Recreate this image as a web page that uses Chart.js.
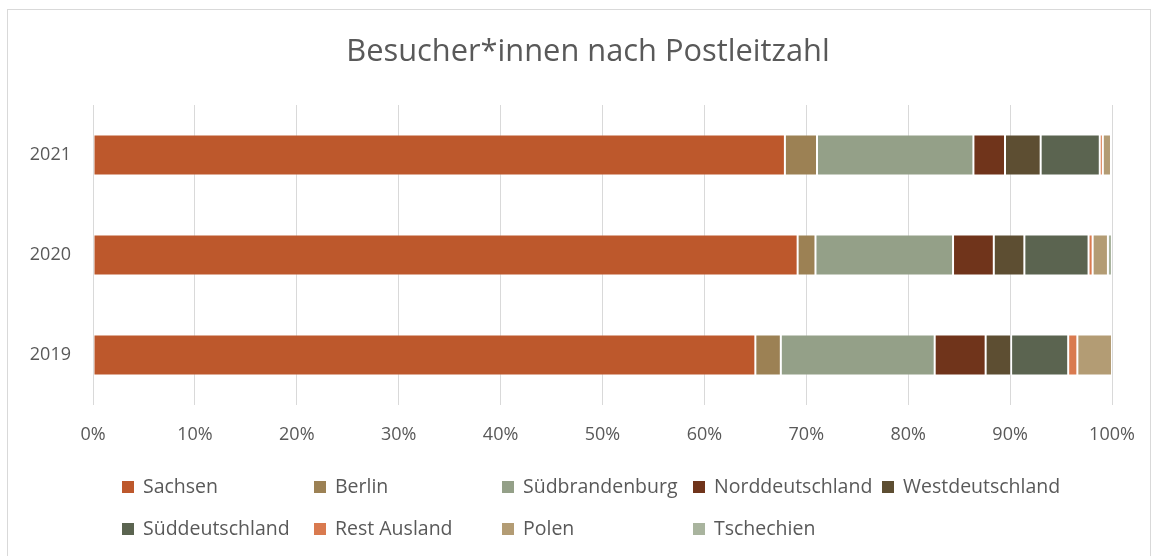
<!DOCTYPE html>
<html><head><meta charset="utf-8">
<script src="https://cdn.jsdelivr.net/npm/chart.js@4/dist/chart.umd.min.js"></script>
<style>html,body{margin:0;padding:0;background:#fff;}#wrap{position:relative;width:1160px;height:556px;}</style>
</head><body><div id="wrap"><canvas id="c" width="1160" height="556"></canvas></div>
<script>
const years = ["2021", "2020", "2019"];
const sachsen = [67.9, 69.15, 65.0];
const berlin = [3.15, 1.75, 2.5];
const suedbrandenburg = [15.35, 13.5, 15.1];
const norddeutschland = [3.1, 4.0, 5.0];
const westdeutschland = [3.5, 3.0, 2.5];
const sueddeutschland = [5.8, 6.3, 5.6];
const restAusland = [0.3, 0.4, 0.9];
const polen = [0.8, 1.5, 3.4];
const tschechien = [0.1, 0.4, 0.0];
const xTicks = ["0%","10%","20%","30%","40%","50%","60%","70%","80%","90%","100%"];
const titleText = "Besucher*innen nach Postleitzahl";

const seriesNames = ["Sachsen","Berlin","Südbrandenburg","Norddeutschland","Westdeutschland","Süddeutschland","Rest Ausland","Polen","Tschechien"];
const seriesData = [sachsen, berlin, suedbrandenburg, norddeutschland, westdeutschland, sueddeutschland, restAusland, polen, tschechien];
const colors = ["#BD582C","#9C8154","#94A088","#70341B","#5D4E32","#5B6450","#D97A4F","#B39C74","#A9B49E"];

const FONT = "'Open Sans', 'Noto Sans', sans-serif";
const GREY = "#595959";

const frame = {
  id: 'frame',
  beforeDraw(chart) {
    const ctx = chart.ctx;
    ctx.save();
    ctx.fillStyle = '#fff';
    ctx.fillRect(0, 0, chart.width, chart.height);
    ctx.strokeStyle = '#d9d9d9';
    ctx.lineWidth = 1;
    ctx.strokeRect(7.5, 9.5, 1143, 600);
    ctx.restore();
  },
  afterDraw(chart) {
    const ctx = chart.ctx;
    ctx.save();
    ctx.font = "30.8px " + FONT;
    ctx.fillStyle = GREY;
    ctx.textAlign = 'center';
    ctx.textBaseline = 'middle';
    ctx.fillText(titleText, 588, 52);
    ctx.restore();
  }
};

const legendCols = [122, 314, 502, 693, 882];
const legendRows = [487, 529];
const customLegend = {
  id: 'customLegend',
  afterDraw(chart) {
    const ctx = chart.ctx;
    ctx.save();
    ctx.font = "19.5px " + FONT;
    ctx.textBaseline = 'middle';
    ctx.textAlign = 'left';
    chart.data.datasets.forEach((ds, i) => {
      const col = i % 5, row = Math.floor(i / 5);
      const x = legendCols[col], y = legendRows[row];
      ctx.fillStyle = ds.backgroundColor;
      ctx.fillRect(x, y - 6, 12, 12);
      ctx.fillStyle = GREY;
      ctx.fillText(ds.label, x + 21, y);
    });
    ctx.restore();
  }
};

new Chart(document.getElementById('c'), {
  type: 'bar',
  data: {
    labels: years,
    datasets: seriesNames.map((n, i) => ({
      label: n,
      data: seriesData[i],
      backgroundColor: colors[i],
      borderColor: 'rgba(255,255,255,0.35)',
      borderWidth: 1,
      borderSkipped: false,
      barPercentage: 0.41,
      categoryPercentage: 1.0
    }))
  },
  options: {
    indexAxis: 'y',
    responsive: false,
    animation: false,
    layout: { padding: { left: 0, right: 48, top: 105, bottom: 100 } },
    plugins: {
      legend: { display: false },
      tooltip: { enabled: false },
      title: { display: false }
    },
    scales: {
      x: {
        stacked: true,
        min: 0, max: 100,
        ticks: {
          stepSize: 10,
          color: GREY,
          font: { family: FONT, size: 18 },
          padding: 19,
          callback: (v, i) => xTicks[i]
        },
        grid: { color: '#d9d9d9', drawTicks: false },
        border: { display: false },
        afterFit(s) { s.height = 51; }
      },
      y: {
        stacked: true,
        ticks: {
          color: GREY,
          font: { family: FONT, size: 18 },
          padding: 22
        },
        grid: { display: false, drawTicks: false },
        border: { display: false },
        afterFit(s) { s.width = 93; }
      }
    }
  },
  plugins: [frame, customLegend]
});
</script></body></html>
